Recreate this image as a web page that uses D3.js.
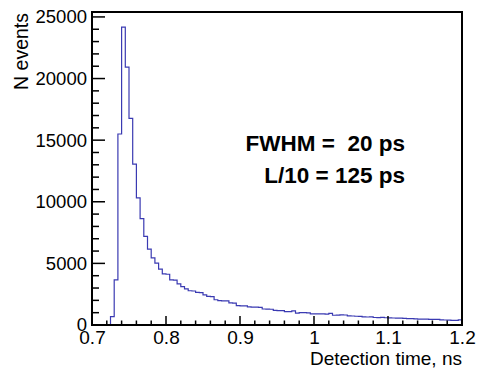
<!DOCTYPE html>
<html>
<head>
<meta charset="utf-8">
<script src="https://cdn.jsdelivr.net/npm/d3@7"></script>
<style>
  html, body { margin: 0; padding: 0; background: #fff; }
  svg { display: block; font-family: 'Liberation Sans', Arial, Helvetica, sans-serif; }
  .label { white-space: pre; }
</style>
</head>
<body>
<div id="chart"></div>
<script>
// ---
// Data
// ---
const binLow = 0.7
const binWidth = 0.005
const counts = [
  0, 0, 0, 0, 0, 680, 3660, 15500, 24170, 20920,
  16770, 13060, 10320, 8640, 7200, 6150, 5450, 5020, 4530, 4150,
  4120, 3670, 3640, 3330, 3110, 2930, 2780, 2760, 2640, 2620,
  2450, 2320, 2300, 2050, 1980, 1960, 1950, 1790, 1770, 1570,
  1560, 1550, 1470, 1450, 1450, 1430, 1300, 1290, 1280, 1180,
  1170, 1160, 1090, 1080, 1150, 960, 1010, 1000, 990, 910,
  900, 910, 900, 890, 950, 790, 800, 820, 810, 740,
  730, 710, 700, 660, 650, 660, 610, 600, 620, 590,
  585, 570, 550, 555, 530, 510, 520, 490, 480, 470,
  475, 460, 450, 455, 420, 405, 390, 380, 370, 410
]
const xTicks = [0.7, 0.8, 0.9, 1.0, 1.1, 1.2]
const yTicks = [0, 5000, 10000, 15000, 20000, 25000]
const xTitle = 'Detection time, ns'
const yTitle = 'N events'
const notes = ['FWHM =  20 ps', 'L/10 = 125 ps']

// ---
// Layout
// ---
const W = 477
const H = 368
const margin = {top: 12, right: 15, bottom: 43, left: 92}
const width = W - margin.left - margin.right
const height = H - margin.top - margin.bottom

// Scale
const xScale = d3.scaleLinear()
  .domain([0.7, 1.2])
  .range([0, width])

const yScale = d3.scaleLinear()
  .domain([0, 25400])
  .range([height, 0])

// Axes
const xAxis = d3.axisBottom(xScale)
  .tickValues(xTicks)
  .tickSize(0)
  .tickFormat(d => d3.format('')(+d.toFixed(1)))

const yAxis = d3.axisLeft(yScale)
  .tickValues(yTicks)
  .tickSize(0)
  .tickFormat(d3.format('d'))

// Container
const svg = d3.select('#chart').append('svg')
    .attr('width', W)
    .attr('height', H)
  .append('g')
    .attr('transform', `translate(${margin.left}, ${margin.top})`)

// histogram outline
const pts = counts.map((c, i) => [binLow + i * binWidth, c])
pts.push([binLow + counts.length * binWidth, counts[counts.length - 1]])

const line = d3.line()
  .x(d => xScale(d[0]))
  .y(d => yScale(d[1]))
  .curve(d3.curveStepAfter)

svg.append('path')
  .datum(pts)
  .attr('fill', 'none')
  .attr('stroke', '#3a3ab2')
  .attr('stroke-width', 1.2)
  .attr('d', line)

// minor / major ticks, pointing inward like ROOT
const xMinor = d3.range(0, 26).map(i => 0.7 + i * 0.02)
svg.append('g').selectAll('line')
    .data(xMinor)
  .enter()
    .append('line')
    .attr('x1', d => xScale(d))
    .attr('x2', d => xScale(d))
    .attr('y1', height)
    .attr('y2', (d, i) => height - (i % 5 === 0 ? 9 : 4.5))
    .attr('stroke', '#000')
    .attr('stroke-width', 1.5)

const yMinor = d3.range(0, 26).map(i => i * 1000)
svg.append('g').selectAll('line')
    .data(yMinor)
  .enter()
    .append('line')
    .attr('x1', 0)
    .attr('x2', (d, i) => i % 5 === 0 ? 13 : 7)
    .attr('y1', d => yScale(d))
    .attr('y2', d => yScale(d))
    .attr('stroke', '#000')
    .attr('stroke-width', 1.5)

// frame
svg.append('rect')
  .attr('width', width)
  .attr('height', height)
  .attr('fill', 'none')
  .attr('stroke', '#000')
  .attr('stroke-width', 2)

svg.append('g')
  .attr('transform', `translate(0, ${height})`)
  .call(xAxis)
  .call(g => g.select('.domain').remove())
  .selectAll('text')
    .attr('font-size', 19)
    .attr('font-family', null)
    .attr('fill', '#000')
    .attr('dy', null)
    .attr('y', 19)

svg.append('g')
  .call(yAxis)
  .call(g => g.select('.domain').remove())
  .selectAll('text')
    .attr('font-size', 18.5)
    .attr('font-family', null)
    .attr('fill', '#000')
    .attr('x', -5)

// axis titles
svg.append('text')
  .attr('x', width)
  .attr('y', height + 39.5)
  .attr('text-anchor', 'end')
  .attr('font-size', 19)
  .text(xTitle)

svg.append('text')
  .attr('transform', `translate(${-margin.left + 28}, 1) rotate(-90)`)
  .attr('text-anchor', 'end')
  .attr('font-size', 19.5)
  .text(yTitle)

// annotation
svg.selectAll('.label')
    .data(notes)
  .enter()
    .append('text')
    .attr('class', 'label')
    .attr('x', 313)
    .attr('y', (d, i) => 139 + i * 32)
    .attr('text-anchor', 'end')
    .attr('font-size', 22.5)
    .attr('font-weight', 'bold')
    .text(d => d)
</script>
</body>
</html>
